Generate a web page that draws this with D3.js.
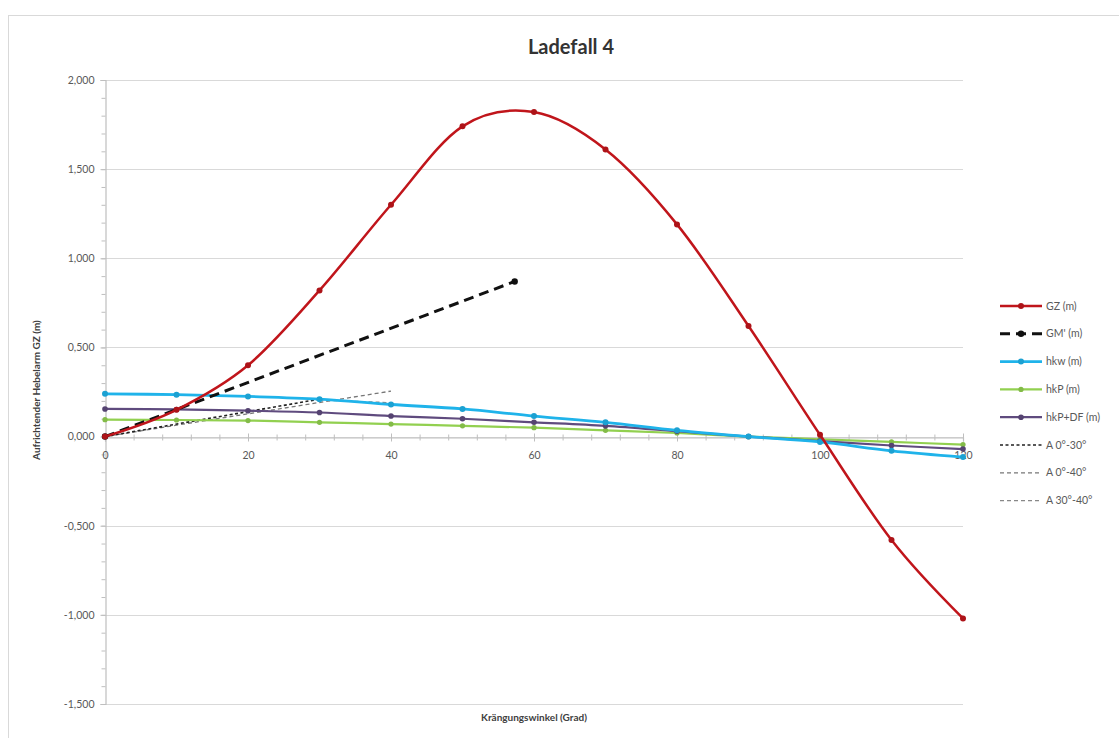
<!DOCTYPE html>
<html>
<head>
<meta charset="utf-8">
<script src="https://cdn.jsdelivr.net/npm/d3@7"></script>
<style>
  body { margin: 0; background: #fff; }
  svg { display: block; font-family: Lato, "Open Sans", sans-serif; }
</style>
</head>
<body>
<svg id="chart" width="1119" height="738"></svg>
<script>
// data
var angles = [0, 10, 20, 30, 40, 50, 60, 70, 80, 90, 100, 110, 120]
var gz = [0, 0.15, 0.40, 0.82, 1.30, 1.74, 1.82, 1.61, 1.19, 0.62, 0.01, -0.58, -1.02]
var hkw = [0.24, 0.235, 0.225, 0.21, 0.18, 0.155, 0.115, 0.08, 0.035, 0, -0.03, -0.08, -0.115]
var hkp = [0.095, 0.093, 0.09, 0.08, 0.07, 0.06, 0.05, 0.035, 0.02, 0, -0.015, -0.03, -0.045]
var hkpdf = [0.155, 0.152, 0.145, 0.135, 0.115, 0.10, 0.08, 0.06, 0.03, 0, -0.025, -0.05, -0.07]
var gmX = [0, 57.3]
var gmY = [0, 0.87]
var a030X = [0, 30], a030Y = [0, 0.21]
var a040X = [0, 40], a040Y = [0, 0.255]
var a3040X = [30, 40], a3040Y = [0.205, 0.19]
var xTicks = [0, 20, 40, 60, 80, 100, 120]
var yTicks = [-1.5, -1, -0.5, 0, 0.5, 1, 1.5, 2]
var legendNames = ["GZ (m)", "GM' (m)", "hkw (m)", "hkP (m)", "hkP+DF (m)", "A 0°-30°", "A 0°-40°", "A 30°-40°"]

function zip(xs, ys) { return xs.map(function (x, i) { return [x, ys[i]] }) }

var series = [
  { pts: zip(angles, gz), color: '#c0151b', width: 2.5, dash: null, marker: 3, smooth: true },
  { pts: zip(gmX, gmY), color: '#111', width: 3, dash: '10,6', marker: 3.2, smooth: false },
  { pts: zip(angles, hkw), color: '#1fb3ea', width: 2.8, dash: null, marker: 3, smooth: true },
  { pts: zip(angles, hkp), color: '#92d050', width: 2.2, dash: null, marker: 2.6, smooth: true },
  { pts: zip(angles, hkpdf), color: '#5f4b7e', width: 2.2, dash: null, marker: 2.8, smooth: true },
  { pts: zip(a030X, a030Y), color: '#222', width: 1.6, dash: '3,2.5', marker: 0, smooth: false },
  { pts: zip(a040X, a040Y), color: '#777', width: 1.3, dash: '4,3', marker: 0, smooth: false },
  { pts: zip(a3040X, a3040Y), color: '#888', width: 1.3, dash: '4,3', marker: 0, smooth: false }
]

var svg = d3.select('#chart')
var x = d3.scaleLinear().domain([0, 120]).range([105, 963])
var y = d3.scaleLinear().domain([-1.5, 2]).range([704, 80])

// outer frame
svg.append('rect').attr('x', 8.5).attr('y', 15.5).attr('width', 1130).attr('height', 740)
  .attr('fill', 'none').attr('stroke', '#d9d9d9')

// gridlines
svg.append('g').selectAll('line').data(yTicks).join('line')
  .attr('x1', x(0)).attr('x2', x(120))
  .attr('y1', function (d) { return Math.round(y(d)) + 0.5 })
  .attr('y2', function (d) { return Math.round(y(d)) + 0.5 })
  .attr('stroke', '#d9d9d9').attr('stroke-width', 1.2)

function fmt(d) { return d3.format('.3f')(d).replace('.', ',').replace('−', '-') }

// y axis
var yAxis = svg.append('g').attr('transform', 'translate(' + (x(0) + 0.5) + ',0)')
  .call(d3.axisLeft(y).tickValues(yTicks).tickFormat(fmt).tickSize(5).tickPadding(6))
var yMinor = svg.append('g').attr('transform', 'translate(' + (x(0) + 0.5) + ',0)')
  .call(d3.axisLeft(y).tickValues(d3.range(-15, 21).map(function (d) { return d / 10 })).tickFormat('').tickSize(4))
yMinor.select('.domain').remove()

// x axis at zero
var xAxis = svg.append('g').attr('transform', 'translate(0,' + (Math.round(y(0)) + 0.5) + ')')
  .call(d3.axisBottom(x).tickValues(xTicks).tickSize(4).tickPadding(10))
var xMinor = svg.append('g').attr('transform', 'translate(0,' + (Math.round(y(0)) + 0.5) + ')')
  .call(d3.axisBottom(x).tickValues(d3.range(0, 121, 4)).tickFormat('').tickSize(3))
xMinor.select('.domain').remove()
xAxis.selectAll('.tick line').attr('y1', -4)
xMinor.selectAll('.tick line').attr('y1', -3)

;[yAxis, yMinor, xAxis, xMinor].forEach(function (g) {
  g.selectAll('path.domain').attr('stroke', '#bfbfbf').attr('stroke-width', 1.2)
  g.selectAll('.tick line').attr('stroke', '#bfbfbf')
  g.selectAll('text').attr('fill', '#595959').style('font-size', '10.5px')
    .style('font-family', 'Lato, "Open Sans", sans-serif')
})

// series
var line = d3.line().x(function (d) { return x(d[0]) }).y(function (d) { return y(d[1]) })
var drawOrder = [7, 6, 5, 3, 4, 2, 1, 0]
drawOrder.forEach(function (i) {
  var s = series[i]
  line.curve(s.smooth ? d3.curveCatmullRom.alpha(0) : d3.curveLinear)
  svg.append('path').datum(s.pts).attr('d', line)
    .attr('fill', 'none').attr('stroke', s.color).attr('stroke-width', s.width)
    .attr('stroke-dasharray', s.dash).attr('stroke-linejoin', 'round')
  if (s.marker) {
    svg.append('g').selectAll('circle').data(s.pts).join('circle')
      .attr('cx', function (d) { return x(d[0]) }).attr('cy', function (d) { return y(d[1]) })
      .attr('r', s.marker).attr('fill', d3.color(s.color).darker(0.3))
  }
})

// legend
var leg = svg.append('g')
series.forEach(function (s, i) {
  var ly = 306 + i * 27.8
  leg.append('line').attr('x1', 1000).attr('x2', 1042).attr('y1', ly).attr('y2', ly)
    .attr('stroke', s.color).attr('stroke-width', s.width).attr('stroke-dasharray', s.dash)
  if (s.marker) {
    leg.append('circle').attr('cx', 1021).attr('cy', ly).attr('r', s.marker)
      .attr('fill', d3.color(s.color).darker(0.3))
  }
  leg.append('text').attr('x', 1046).attr('y', ly + 3.5).text(legendNames[i])
    .attr('fill', '#595959').style('font-size', '10.5px')
})

// titles
svg.append('text').attr('x', 571).attr('y', 54).attr('text-anchor', 'middle')
  .style('font-size', '20px').style('font-weight', 'bold').attr('fill', '#333').text('Ladefall 4')
svg.append('text').attr('x', 534).attr('y', 721).attr('text-anchor', 'middle')
  .style('font-size', '10px').style('font-weight', 'bold').attr('fill', '#404040').text('Krängungswinkel (Grad)')
svg.append('text').attr('transform', 'translate(40,390) rotate(-90)').attr('text-anchor', 'middle')
  .style('font-size', '10px').style('font-weight', 'bold').attr('fill', '#404040').text('Aufrichtender Hebelarm GZ (m)')
</script>
</body>
</html>
